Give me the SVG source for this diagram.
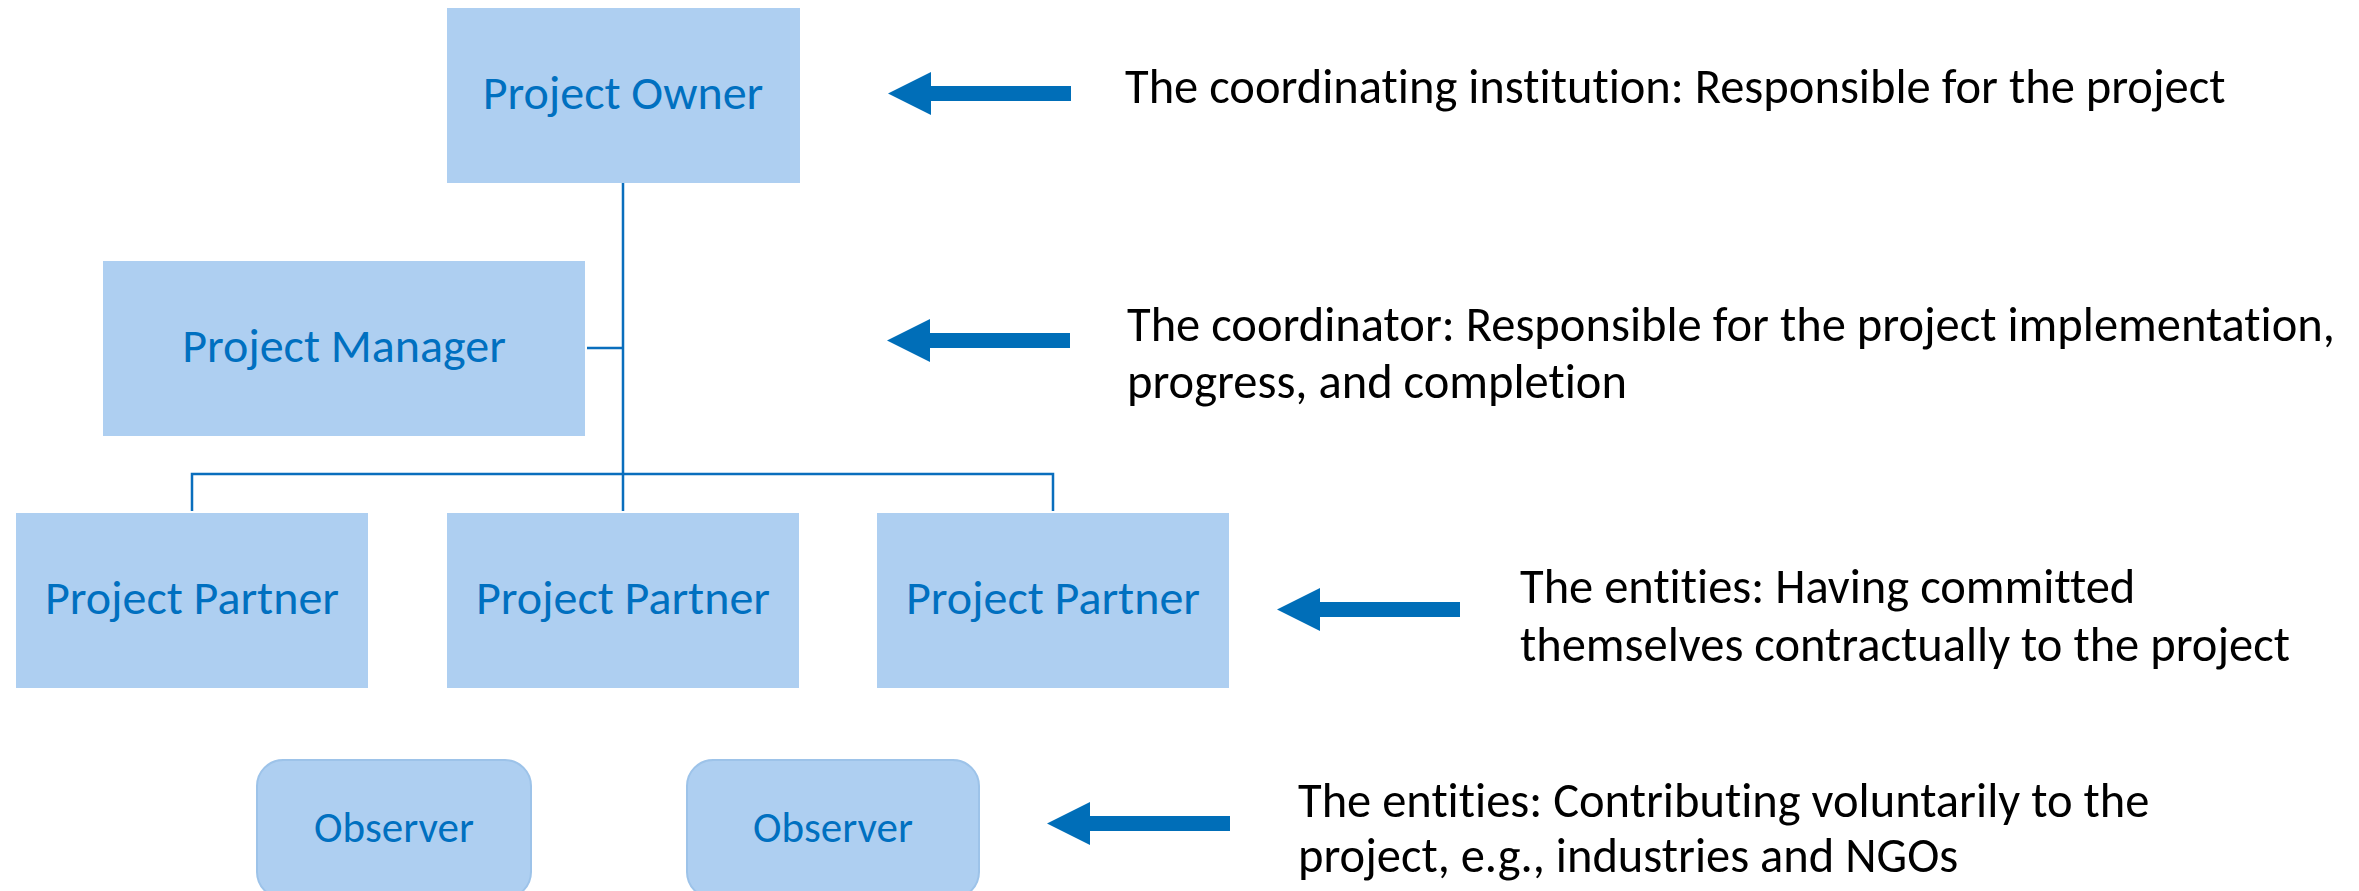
<svg xmlns="http://www.w3.org/2000/svg" width="2359" height="891" viewBox="0 0 2359 891">
<style>
  text { font-variant-ligatures: none; }
  .box { fill: #AECFF1; }
  .obs { fill: #AECFF1; stroke: #9DC3E9; stroke-width: 2; }
  .lbl { font-family: Carlito, Lato, "Open Sans", sans-serif; fill: #0070C0; text-anchor: middle; }
  .big { font-size: 48px; }
  .small { font-size: 43px; }
  .desc { font-family: Carlito, Lato, "Open Sans", sans-serif; font-size: 48.5px; fill: #000000; }
  .conn { fill: none; stroke: #0A6EBD; stroke-width: 2.5; }
  .arrow { fill: #006EB8; }
</style>
<defs>
  <path id="arr" d="M0 0 L43 -21.5 L43 -7.5 L183 -7.5 L183 7.5 L43 7.5 L43 21.5 Z"/>
</defs>
<rect width="2359" height="891" fill="#FFFFFF"/>

<g id="connectors">
  <path class="conn" d="M623 183 V511"/>
  <path class="conn" d="M587 348 H623"/>
  <path class="conn" d="M192 511 V474 H1053 V511"/>
</g>

<g id="owner">
  <rect class="box" x="447" y="8" width="353" height="175"/>
  <text class="lbl big" x="623" y="109">Project Owner</text>
</g>
<g id="manager">
  <rect class="box" x="103" y="261" width="482" height="175"/>
  <text class="lbl big" x="344" y="362">Project Manager</text>
</g>
<g id="partner1">
  <rect class="box" x="16" y="513" width="352" height="175"/>
  <text class="lbl big" x="192" y="614">Project Partner</text>
</g>
<g id="partner2">
  <rect class="box" x="447" y="513" width="352" height="175"/>
  <text class="lbl big" x="623" y="614">Project Partner</text>
</g>
<g id="partner3">
  <rect class="box" x="877" y="513" width="352" height="175"/>
  <text class="lbl big" x="1053" y="614">Project Partner</text>
</g>
<g id="observer1">
  <rect class="obs" x="257" y="760" width="274" height="138" rx="26" ry="26"/>
  <text class="lbl small" x="394" y="842">Observer</text>
</g>
<g id="observer2">
  <rect class="obs" x="687" y="760" width="292" height="138" rx="26" ry="26"/>
  <text class="lbl small" x="833" y="842">Observer</text>
</g>

<g id="arrows">
  <use href="#arr" class="arrow" transform="translate(888,93.5)"/>
  <use href="#arr" class="arrow" transform="translate(887,340.5)"/>
  <use href="#arr" class="arrow" transform="translate(1277,609.5)"/>
  <use href="#arr" class="arrow" transform="translate(1047,823.5)"/>
</g>

<g id="descriptions">
  <text class="desc" x="1125" y="103">The coordinating institution: Responsible for the project</text>
  <text class="desc" x="1127" y="341">The coordinator: Responsible for the project implementation,</text>
  <text class="desc" x="1127" y="398">progress, and completion</text>
  <text class="desc" x="1520" y="603">The entities: Having committed</text>
  <text class="desc" x="1520" y="661">themselves contractually to the project</text>
  <text class="desc" x="1298" y="817">The entities: Contributing voluntarily to the</text>
  <text class="desc" x="1298" y="872">project, e.g., industries and NGOs</text>
</g>
</svg>
